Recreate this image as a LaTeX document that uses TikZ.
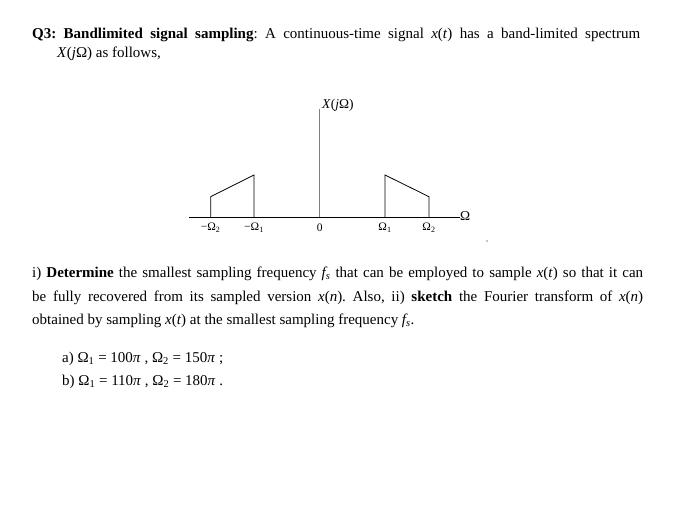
\documentclass[tikz,border=0pt]{standalone}
\usepackage{fontspec}
\setmainfont{Liberation Serif}
\newcommand{\vi}[1]{\textit{#1}}
\frenchspacing
\begin{document}
\begin{tikzpicture}[x=1pt,y=-1pt,
  txt/.style={anchor=west,inner sep=0pt,font=\fontsize{15}{18}\selectfont\frenchspacing},
  lab/.style={inner sep=0pt,font=\fontsize{11.5}{13}\selectfont},
  spec/.style={line width=0.8pt}]
\useasboundingbox (0,0) rectangle (673,529);
\node[txt] (l1) at (32,35) {\hbox to 608pt{\textbf{Q3: Bandlimited signal sampling}: A continuous-time signal \vi{x}(\vi{t}) has a band-limited spectrum}};
\node[txt] (l2) at (57,54) {\vi{X}(\vi{j}Ω) as follows,};
% plot
\coordinate (axL) at (189,217.5);
\coordinate (axR) at (460,217.5);
\draw[spec] (axL) -- (axR);
\coordinate (c0) at (319.7,217.5);
\coordinate (ctop) at (319.7,109);
\draw[line width=1.3pt,gray] (c0) -- (ctop);
\node[lab,anchor=south west,font=\fontsize{13.5}{15}\selectfont] (xl) at (322,112) {\vi{X}(\vi{j}Ω)};
\node[lab,anchor=west,font=\fontsize{13.5}{15}\selectfont] (om) at (460,216) {Ω};
\coordinate (a1) at (210.7,217.5); \coordinate (a1t) at (210.7,196.7);
\coordinate (a2) at (254,217.5); \coordinate (a2t) at (254,175);
\coordinate (b1) at (385,217.5); \coordinate (b1t) at (385,175);
\coordinate (b2) at (429,217.5); \coordinate (b2t) at (429,196.7);
\draw[spec] (a1) -- (a1t) -- (a2t) -- (a2);
\draw[spec] (b1) -- (b1t) -- (b2t) -- (b2);
\node[lab] (t1) at (210.7,228) {−Ω\textsubscript{2}};
\node[lab] (t2) at (254,228) {−Ω\textsubscript{1}};
\node[lab] (t0) at (319.7,228) {0};
\node[lab] (t3) at (385,228) {Ω\textsubscript{1}};
\node[lab] (t4) at (429,228) {Ω\textsubscript{2}};
\fill (487,241) circle (0.6);
% text
\node[txt] (p1) at (32,274) {\hbox to 611pt{i) \textbf{Determine} the smallest sampling frequency \vi{f\textsubscript{s}} that can be employed to sample \vi{x}(\vi{t}) so that it can}};
\node[txt] (p2) at (32,298) {\hbox to 611pt{be fully recovered from its sampled version \vi{x}(\vi{n}). Also, ii) \textbf{sketch} the Fourier transform of \vi{x}(\vi{n})}};
\node[txt] (p3) at (32,321) {obtained by sampling \vi{x}(\vi{t}) at the smallest sampling frequency \vi{f\textsubscript{s}}.};
\node[txt] (qa) at (62,359) {a) Ω\textsubscript{1} = 100\vi{π} , Ω\textsubscript{2} = 150\vi{π} ;};
\node[txt] (qb) at (62,382) {b) Ω\textsubscript{1} = 110\vi{π} , Ω\textsubscript{2} = 180\vi{π} .};
\end{tikzpicture}
\end{document}
